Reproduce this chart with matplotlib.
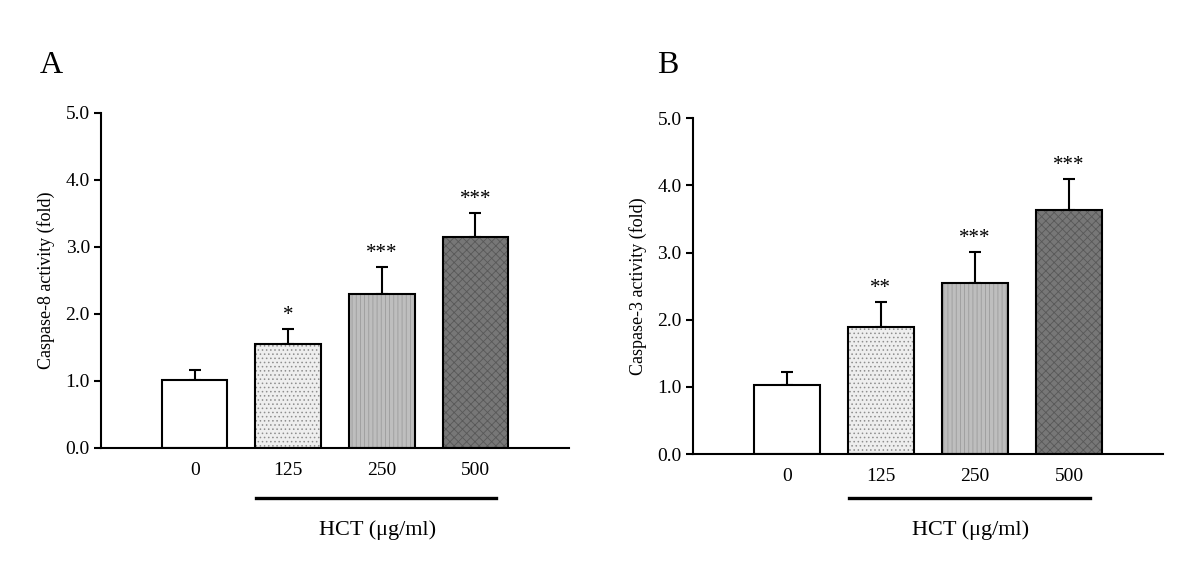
import matplotlib
matplotlib.use("Agg")
import matplotlib.pyplot as plt
import matplotlib.transforms as mtransforms

plt.rcParams["font.family"] = ["Liberation Serif", "DejaVu Serif"]
plt.rcParams["hatch.linewidth"] = 0.6

# данные
doses = ["0", "125", "250", "500"]
casp8_mean = [1.02, 1.55, 2.29, 3.15]
casp8_err = [0.14, 0.22, 0.41, 0.36]
casp8_stars = ["", "*", "***", "***"]
casp3_mean = [1.03, 1.89, 2.55, 3.64]
casp3_err = [0.19, 0.37, 0.46, 0.45]
casp3_stars = ["", "**", "***", "***"]
yticks = [0.0, 1.0, 2.0, 3.0, 4.0, 5.0]

# оформление столбцов: заливка, штриховка, цвет штриховки
faces = ["white", "#eeeeee", "#bebebe", "#777777"]
hatches = [None, "....", "||||", "xxxx"]
hatch_cols = ["white", "#8e8e8e", "#9c9c9c", "#585858"]


def draw_panel(ax, means, errs, stars, ylabel, letter, letter_x):
    xs = list(range(len(means)))
    for x, m, fc, h, hc in zip(xs, means, faces, hatches, hatch_cols):
        ax.bar(x, m, width=0.7, color=fc, hatch=h, edgecolor=hc, linewidth=0, zorder=2)
    ax.bar(xs, means, width=0.7, fill=False, edgecolor="black", linewidth=1.5, zorder=3)
    ax.errorbar(xs, means, yerr=[[0] * len(errs), errs], fmt="none", ecolor="black",
                elinewidth=1.5, capsize=4.5, capthick=1.5, zorder=1)
    for x, m, e, s in zip(xs, means, errs, stars):
        if s:
            ax.text(x, m + e + 0.06, s, ha="center", va="bottom", fontsize=15)

    ax.set_xlim(-1, 4)
    ax.set_ylim(0, 5)
    ax.set_yticks(yticks)
    ax.set_yticklabels([f"{t:.1f}" for t in yticks])
    ax.set_xticks(xs)
    ax.set_xticklabels(doses)
    ax.tick_params(axis="x", length=0, pad=10, labelsize=14)
    ax.tick_params(axis="y", direction="out", length=5, width=1.5, labelsize=14, pad=3)
    for side in ["top", "right"]:
        ax.spines[side].set_visible(False)
    for side in ["left", "bottom"]:
        ax.spines[side].set_linewidth(1.5)
    ax.set_ylabel(ylabel, fontsize=13)
    ax.yaxis.set_label_coords(-0.098, 0.5)

    # линия под дозами HCT и подпись
    trans = mtransforms.blended_transform_factory(ax.transData, fig.transFigure)
    ax.plot([0.66, 3.22], [0.124, 0.124], color="black", linewidth=2.4,
            transform=trans, clip_on=False)
    ax.text(1.95, 0.067, "HCT (μg/ml)", transform=trans, ha="center", va="center",
            fontsize=16)
    fig.text(letter_x, 0.8715, letter, ha="left", va="baseline", fontsize=23)


fig = plt.figure(figsize=(12, 5.68), dpi=100)
ax_a = fig.add_axes([0.0842, 0.2113, 0.39, 0.5903])
ax_b = fig.add_axes([0.5773, 0.2007, 0.392, 0.5910])

draw_panel(ax_a, casp8_mean, casp8_err, casp8_stars, "Caspase-8 activity (fold)", "A", 0.0333)
draw_panel(ax_b, casp3_mean, casp3_err, casp3_stars, "Caspase-3 activity (fold)", "B", 0.5475)

fig.savefig("out.png", dpi=100)
